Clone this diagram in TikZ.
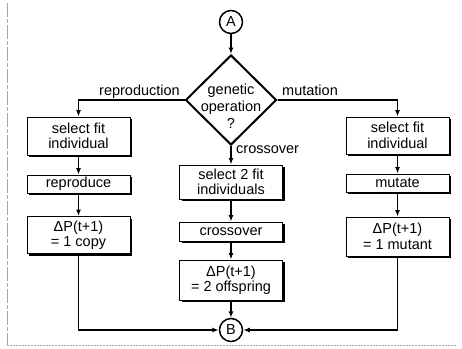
\documentclass[tikz,border=0pt]{standalone}
\usepackage{fontspec}
\setmainfont{Liberation Sans}
\usetikzlibrary{arrows.meta,shapes.geometric,shadows}
\begin{document}
\begin{tikzpicture}[x=1pt,y=-1pt,
  font=\fontsize{14.5}{15.5}\selectfont,
  box/.style={draw=black,line width=0.9pt,fill=white,minimum width=103pt,inner sep=0pt,align=center,
    drop shadow={shadow xshift=2pt,shadow yshift=-2pt,fill=black,opacity=1}},
  conn/.style={line width=1.6pt,-{Latex[length=6.5pt,width=5pt]}},
  circ/.style={draw=black,circle,line width=1.5pt,minimum size=23pt,inner sep=0pt,fill=white},
  lbl/.style={inner sep=0pt}
]
\useasboundingbox (0,0) rectangle (462,348);
\fill[white] (0,0) rectangle (462,348);
% frame
\draw[gray!70,line width=0.9pt,dash pattern=on 14pt off 2pt on 4pt off 2pt] (7,3) -- (7,345);
\draw[gray!70,line width=0.6pt,dash pattern=on 1.5pt off 1.5pt] (7,345.5) -- (456,345.5);

\node[circ] (A) at (231,22) {A};
\node[draw=black,diamond,line width=2pt,minimum width=91pt,minimum height=90pt,inner sep=0pt] (D) at (231,100) {};
\node[lbl,align=center,font=\fontsize{14.5}{17}\selectfont] (Dt) at (231,106) {genetic\\operation\\?};

\node[box,minimum height=38pt] (L1) at (78.5,136) {select fit\\individual};
\node[box,minimum height=18pt] (L2) at (78.5,184) {reproduce};
\node[box,minimum height=37pt] (L3) at (78.5,235) {ΔP(t+1)\\= 1 copy};

\node[box,minimum height=34pt] (C1) at (231,182) {select 2 fit\\individuals};
\node[box,minimum height=19pt] (C2) at (231,231.5) {crossover};
\node[box,minimum height=40pt] (C3) at (231,280) {ΔP(t+1)\\= 2 offspring};

\node[box,minimum height=37pt] (R1) at (397.5,135.5) {select fit\\individual};
\node[box,minimum height=18pt] (R2) at (397.5,183) {mutate};
\node[box,minimum height=39pt] (R3) at (397.5,236.5) {ΔP(t+1)\\= 1 mutant};

\node[circ] (B) at (231,330) {B};

\node[lbl,anchor=base east] (lr) at (180,95) {reproduction};
\node[lbl,anchor=base west] (lm) at (282,95) {mutation};
\node[lbl,anchor=base west] (lc) at (236,153) {crossover};

\draw[conn] (A) -- (D.north);
\draw[conn] (D.west) -| (L1.north);
\draw[conn] (D.east) -| (R1.north);
\draw[conn] (D.south) -- (C1.north);
\draw[conn] (L1) -- (L2);
\draw[conn] (L2) -- (L3);
\draw[conn] (C1) -- (C2);
\draw[conn] (C2) -- (C3);
\draw[conn] (R1) -- (R2);
\draw[conn] (R2) -- (R3);
\draw[conn] (C3) -- (B);
\draw[conn] (L3.south) |- (B.west);
\draw[conn] (R3.south) |- (B.east);
\end{tikzpicture}
\end{document}
